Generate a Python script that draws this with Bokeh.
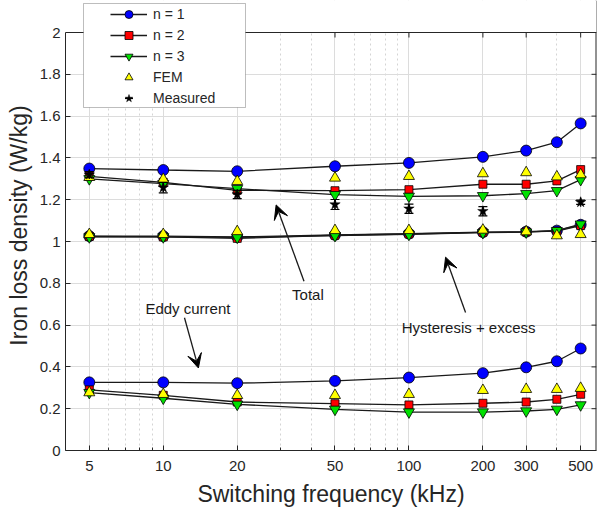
from bokeh.plotting import figure
from bokeh.models import (Range1d, FixedTicker, Legend, LegendItem, Whisker, Span,
                          TeeHead, Arrow, VeeHead, Label, BoxAnnotation, ColumnDataSource)
from bokeh.embed import file_html
from bokeh.resources import INLINE
import math

# ---------------- data ----------------
freq = [5, 10, 20, 50, 100, 200, 300, 400, 500]

total_n1 = [1.349, 1.342, 1.336, 1.360, 1.376, 1.405, 1.435, 1.475, 1.565]
total_n2 = [1.312, 1.283, 1.245, 1.243, 1.248, 1.274, 1.274, 1.290, 1.344]
total_n3 = [1.300, 1.277, 1.253, 1.224, 1.216, 1.219, 1.229, 1.243, 1.296]
total_fem = [1.307, 1.298, 1.288, 1.304, 1.312, 1.325, 1.330, 1.310, 1.320]

hyst_n1 = [1.026, 1.026, 1.022, 1.032, 1.038, 1.045, 1.047, 1.052, 1.080]
hyst_n2 = [1.024, 1.022, 1.015, 1.030, 1.036, 1.044, 1.046, 1.050, 1.076]
hyst_n3 = [1.022, 1.022, 1.020, 1.028, 1.034, 1.042, 1.045, 1.052, 1.083]
hyst_fem = [1.034, 1.034, 1.048, 1.053, 1.053, 1.055, 1.047, 1.028, 1.034]

eddy_n1 = [0.326, 0.326, 0.322, 0.333, 0.349, 0.370, 0.398, 0.427, 0.488]
eddy_n2 = [0.290, 0.264, 0.232, 0.224, 0.218, 0.226, 0.232, 0.245, 0.269]
eddy_n3 = [0.277, 0.250, 0.221, 0.197, 0.184, 0.184, 0.189, 0.197, 0.218]
eddy_fem = [0.277, 0.269, 0.264, 0.264, 0.269, 0.288, 0.293, 0.293, 0.298]

meas_freq = [5, 10, 20, 50, 100, 200, 500]
meas_total = [1.320, 1.258, 1.225, 1.177, 1.157, 1.145, 1.188]
meas_err = [0.015, 0.025, 0.020, 0.024, 0.022, 0.022, 0.010]

x_ticks = [5, 10, 20, 50, 100, 200, 300, 500]
x_tick_labels = ["5", "10", "20", "50", "100", "200", "300", "500"]
x_minor = [6, 7, 8, 9, 30, 40, 60, 70, 80, 90, 400]
y_ticks = [0, 0.2, 0.4, 0.6, 0.8, 1, 1.2, 1.4, 1.6, 1.8, 2]
y_tick_labels = ["0", "0.2", "0.4", "0.6", "0.8", "1", "1.2", "1.4", "1.6", "1.8", "2"]

X_MIN, X_MAX = 4, 580
Y_MIN, Y_MAX = 0, 2
FONT = "Liberation Sans"
TXT = "#262626"

# frame reaches the canvas top so the legend may rise above the axes box
p = figure(width=597, height=514, x_axis_type="log",
           x_range=Range1d(X_MIN, X_MAX), y_range=Range1d(Y_MIN, Y_MAX * 450 / 418),
           output_backend="svg", toolbar_location=None,
           min_border_left=65, min_border_right=1, min_border_top=0, min_border_bottom=64)
p.background_fill_color = "white"
p.border_fill_color = "white"
p.outline_line_color = None

xt = FixedTicker(ticks=x_ticks, minor_ticks=x_minor)
yt = FixedTicker(ticks=y_ticks, minor_ticks=[])

xa = p.xaxis[0]
xa.ticker = xt
xa.major_label_overrides = {t: l for t, l in zip(x_ticks, x_tick_labels)}
ya = p.yaxis[0]
ya.ticker = yt
ya.bounds = (Y_MIN, Y_MAX)
ya.major_label_overrides = {t: l for t, l in zip(y_ticks, y_tick_labels)}

for ax in (xa, ya):
    ax.major_tick_in = 5
    ax.major_tick_out = 0
    ax.minor_tick_in = 3
    ax.minor_tick_out = 0
    ax.axis_line_color = TXT
    ax.major_tick_line_color = TXT
    ax.minor_tick_line_color = TXT
    ax.major_label_text_font = FONT
    ax.major_label_text_font_size = "15px"
    ax.major_label_text_color = TXT
    ax.axis_label_text_font = FONT
    ax.axis_label_text_font_size = "23px"
    ax.axis_label_text_font_style = "normal"
    ax.axis_label_text_color = TXT

xa.axis_label = "Switching frequency (kHz)"
xa.major_label_standoff = 10
xa.axis_label_standoff = 7
ya.axis_label = "Iron loss density (W/kg)"
ya.major_label_standoff = 5
ya.axis_label_standoff = 5

p.xgrid.ticker = xt
p.ygrid.ticker = yt
p.xgrid.grid_line_color = "#dcdcdc"
p.ygrid.grid_line_color = "#dcdcdc"
p.xgrid.minor_grid_line_color = "#d4d4d4"
p.xgrid.minor_grid_line_dash = "2 3"

# right edge of the axes box, then blank out everything above y = 2, then the top edge
p.add_layout(Span(location=X_MAX, dimension="height", line_color=TXT, line_width=2))
p.add_layout(BoxAnnotation(bottom=Y_MAX, fill_color="white", fill_alpha=1.0,
                           line_color=None, level="annotation"))
p.add_layout(Span(location=Y_MAX, dimension="width", line_color=TXT, line_width=1))

# inward ticks on the top and right edges
tick_dy = 5 / 209.0
tick_fx = 10 ** (5 / 245.7)
p.segment(x0=x_ticks, y0=[Y_MAX] * len(x_ticks), x1=x_ticks, y1=[Y_MAX - tick_dy] * len(x_ticks),
          line_color=TXT, line_width=1)
p.segment(x0=[X_MAX] * len(y_ticks), y0=y_ticks, x1=[X_MAX / tick_fx] * len(y_ticks), y1=y_ticks,
          line_color=TXT, line_width=1)

LINE = "#1a1a1a"
LW = 1.3

def series(y, color, marker, size):
    ln = p.line(freq, y, line_color=LINE, line_width=LW)
    sc = p.scatter(freq, y, marker=marker, size=size, fill_color=color,
                   line_color="black", line_width=0.8)
    return ln, sc

l1a, s1a = series(total_n1, "#0000ff", "circle", 11)
series(hyst_n1, "#0000ff", "circle", 11)
series(eddy_n1, "#0000ff", "circle", 11)
l2a, s2a = series(total_n2, "#ff0000", "square", 8)
series(hyst_n2, "#ff0000", "square", 8)
series(eddy_n2, "#ff0000", "square", 8)
l3a, s3a = series(total_n3, "#00e000", "inverted_triangle", 11)
series(hyst_n3, "#00e000", "inverted_triangle", 11)
series(eddy_n3, "#00e000", "inverted_triangle", 11)

fem_kw = dict(marker="triangle", size=11, fill_color="#ffff00", line_color="black", line_width=0.8)
f1 = p.scatter(freq, total_fem, **fem_kw)
p.scatter(freq, hyst_fem, **fem_kw)
p.scatter(freq, eddy_fem, **fem_kw)

msrc = ColumnDataSource(dict(
    x=meas_freq, y=meas_total,
    lo=[m - e for m, e in zip(meas_total, meas_err)],
    hi=[m + e for m, e in zip(meas_total, meas_err)]))
wh = Whisker(source=msrc, base="x", lower="lo", upper="hi", dimension="height",
             line_color="black", line_width=1.2, level="glyph",
             upper_head=TeeHead(size=9, line_color="black", line_width=1.2),
             lower_head=TeeHead(size=9, line_color="black", line_width=1.2))
p.add_layout(wh)
mbar = p.scatter("x", "y", source=msrc, marker="dash", angle=math.pi / 2, size=9,
                 line_color="black", line_width=1.2)
mstar = p.scatter("x", "y", source=msrc, marker="star", size=11,
                  fill_color="black", line_color="black", line_width=0.5)

# ---------------- annotations ----------------
def note(text, x, y):
    p.add_layout(Label(x=x, y=y, text=text, text_font=FONT, text_font_size="15px",
                       text_color="#1a1a1a", text_align="center", text_baseline="middle"))

def arrow(x0, y0, x1, y1):
    p.add_layout(Arrow(x_start=x0, y_start=y0, x_end=x1, y_end=y1,
                       line_color="#1a1a1a", line_width=1.3,
                       end=VeeHead(size=14, fill_color="black", line_color="black", line_width=1)))

note("Total", 38.8, 0.745)
arrow(37.4, 0.81, 28.8, 1.175)
note("Eddy current", 12.6, 0.68)
arrow(12.2, 0.635, 13.9, 0.395)
note("Hysteresis + excess", 175, 0.59)
arrow(170, 0.66, 141, 0.925)

# ---------------- legend ----------------
box = BoxAnnotation(left=83, right=245, top=3, bottom=107,
                    left_units="canvas", right_units="canvas", top_units="canvas", bottom_units="canvas",
                    fill_color="white", fill_alpha=1.0, line_color=TXT, line_width=1, level="annotation")
p.add_layout(box)

legend = Legend(items=[
    LegendItem(label="n = 1", renderers=[l1a, s1a]),
    LegendItem(label="n = 2", renderers=[l2a, s2a]),
    LegendItem(label="n = 3", renderers=[l3a, s3a]),
    LegendItem(label="FEM", renderers=[f1]),
    LegendItem(label="Measured", renderers=[mbar, mstar]),
], location=(43, 340))
legend.padding = 2
legend.margin = 0
legend.spacing = 1
legend.glyph_width = 37
legend.glyph_height = 20
legend.label_height = 20
legend.label_standoff = 6
legend.label_text_font = FONT
legend.label_text_font_size = "14px"
legend.label_text_color = TXT
legend.background_fill_alpha = 0
legend.border_line_alpha = 0
p.add_layout(legend)

open("out.html", "w").write(file_html(p, INLINE))
